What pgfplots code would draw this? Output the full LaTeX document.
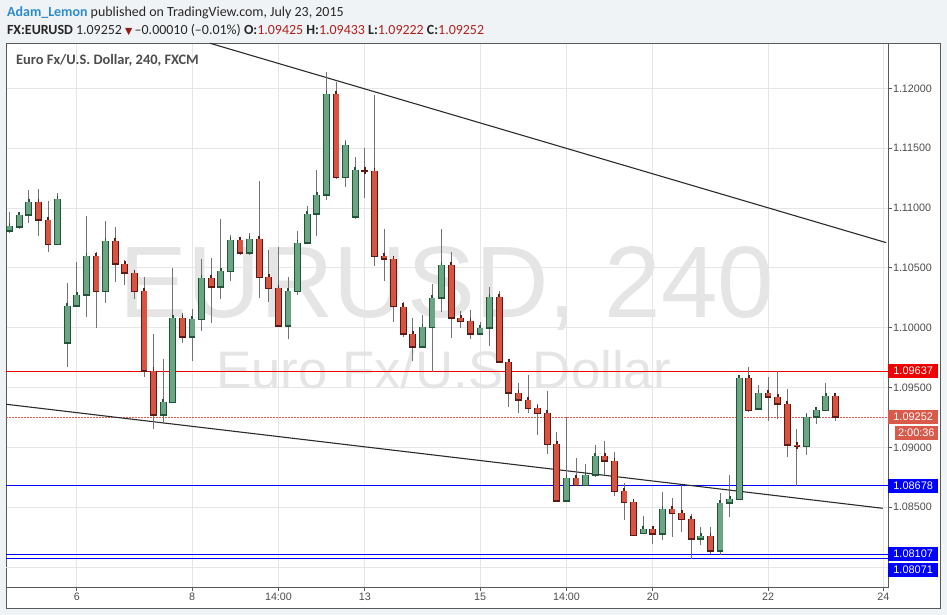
\documentclass[border=0pt]{standalone}
\usepackage{fontspec}
\setmainfont{Liberation Sans}
\newfontfamily\hdfont{Carlito}
\newfontfamily\symfont{DejaVu Sans}
\usepackage{pgfplots}
\usepackage{pgfplotstable}
\pgfplotsset{compat=1.18}

\definecolor{bgpage}{HTML}{F0F3F6}
\definecolor{framec}{HTML}{5A5A5A}
\definecolor{gridc}{HTML}{E6E6E6}
\definecolor{upfill}{HTML}{6BA583}
\definecolor{upline}{HTML}{225437}
\definecolor{dnfill}{HTML}{D75442}
\definecolor{dnline}{HTML}{5B1A13}
\definecolor{wick}{HTML}{737373}
\definecolor{lastc}{HTML}{D9594A}
\definecolor{txtgray}{HTML}{4D4D4D}
\definecolor{wm}{HTML}{E5E5E5}
\definecolor{userblue}{HTML}{2A8BD0}
\definecolor{valred}{HTML}{B0201C}
\definecolor{lvlred}{HTML}{EE0000}
\definecolor{lvlblue}{HTML}{0000FF}
\definecolor{trend}{HTML}{2B2B2B}

% EURUSD 240 min bars, x = bar number
% rising bars
\pgfplotstableread{
x o h l c
0 1.10806 1.10970 1.10789 1.10850
1 1.10844 1.10956 1.10828 1.10940
2 1.10940 1.11151 1.10878 1.11048
5 1.10697 1.11126 1.10690 1.11073
6 1.09870 1.10374 1.09674 1.10181
7 1.10179 1.10549 1.10175 1.10271
8 1.10271 1.10934 1.10092 1.10597
10 1.10304 1.10892 1.10209 1.10722
16 1.09268 1.09738 1.09192 1.09376
17 1.09376 1.10497 1.09370 1.10079
19 1.09920 1.10154 1.09724 1.10070
20 1.10070 1.10574 1.09975 1.10413
22 1.10338 1.10906 1.10237 1.10471
23 1.10471 1.10772 1.10393 1.10731
25 1.10622 1.10789 1.10610 1.10739
29 1.10012 1.10421 1.09903 1.10304
30 1.10304 1.10806 1.10276 1.10706
31 1.10706 1.11017 1.10697 1.10948
32 1.10948 1.11318 1.10769 1.11107
33 1.11107 1.12135 1.11070 1.11951
35 1.11257 1.11569 1.11179 1.11525
36 1.10923 1.11427 1.10909 1.11316
43 1.09841 1.10106 1.09833 1.10003
44 1.10003 1.10365 1.09632 1.10246
45 1.10246 1.10823 1.10129 1.10522
49 1.09945 1.10045 1.09936 1.09995
50 1.09995 1.10338 1.09851 1.10254
58 1.08549 1.09251 1.08545 1.08741
60 1.08682 1.08860 1.08678 1.08766
61 1.08766 1.09017 1.08754 1.08925
66 1.08281 1.08423 1.08273 1.08315
68 1.08273 1.08624 1.08228 1.08482
72 1.08231 1.08336 1.08186 1.08256
74 1.08131 1.08616 1.08102 1.08532
75 1.08532 1.08766 1.08415 1.08565
76 1.08565 1.09594 1.08560 1.09577
78 1.09318 1.09521 1.09315 1.09452
83 1.09005 1.09289 1.08938 1.09251
84 1.09251 1.09326 1.09197 1.09309
85 1.09309 1.09535 1.09301 1.09425
}\upbars

% falling bars
\pgfplotstableread{
x o h l c
3 1.11048 1.11159 1.10769 1.10898
4 1.10898 1.11059 1.10635 1.10697
9 1.10597 1.10633 1.10000 1.10304
11 1.10722 1.10842 1.10385 1.10530
12 1.10530 1.10566 1.10359 1.10455
13 1.10455 1.10482 1.10242 1.10304
14 1.10304 1.10424 1.09590 1.09640
15 1.09640 1.09947 1.09151 1.09268
18 1.10079 1.10120 1.09870 1.09920
21 1.10413 1.10580 1.10042 1.10338
24 1.10731 1.10756 1.10610 1.10622
26 1.10739 1.11224 1.10251 1.10421
27 1.10421 1.10650 1.10215 1.10329
28 1.10329 1.10672 1.10005 1.10012
34 1.11951 1.12057 1.11241 1.11257
37 1.11316 1.11502 1.11087 1.11308
38 1.11308 1.11945 1.10518 1.10594
39 1.10597 1.10823 1.10393 1.10572
40 1.10572 1.10580 1.10050 1.10176
41 1.10176 1.10212 1.09925 1.09945
42 1.09945 1.10084 1.09724 1.09841
46 1.10522 1.10630 1.09916 1.10079
47 1.10079 1.10137 1.10000 1.10053
48 1.10053 1.10145 1.09903 1.09945
51 1.10254 1.10305 1.09702 1.09711
52 1.09711 1.09719 1.09334 1.09452
53 1.09452 1.09535 1.09284 1.09393
54 1.09393 1.09602 1.09284 1.09326
55 1.09326 1.09360 1.09105 1.09284
56 1.09284 1.09468 1.08947 1.09025
57 1.09025 1.09125 1.08545 1.08549
59 1.08741 1.08908 1.08678 1.08682
62 1.08925 1.09050 1.08766 1.08883
63 1.08883 1.08958 1.08595 1.08632
64 1.08632 1.08699 1.08395 1.08540
65 1.08540 1.08557 1.08260 1.08264
67 1.08315 1.08336 1.08194 1.08273
69 1.08482 1.08574 1.08248 1.08448
70 1.08448 1.08682 1.08294 1.08398
71 1.08398 1.08440 1.08069 1.08231
73 1.08256 1.08336 1.08107 1.08131
77 1.09577 1.09674 1.09298 1.09309
79 1.09452 1.09590 1.09222 1.09418
80 1.09418 1.09640 1.09234 1.09360
81 1.09360 1.09485 1.08917 1.09017
82 1.09017 1.09151 1.08678 1.09005
86 1.09425 1.09433 1.09222 1.09252
}\downbars

\pgfplotsset{
  wickplot/.style={draw=none, mark=none, forget plot,
    error bars/.cd, y dir=plus, y explicit, error mark=none,
    error bar style={draw=wick, line width=1bp}},
  edgeplot/.style={only marks, mark=-, mark size=3.4bp, forget plot,
    mark options={draw=#1, line width=1.6bp},
    error bars/.cd, y dir=plus, y explicit, error mark=-,
    error mark options={draw=#1, line width=1.6bp, mark size=3.4bp},
    error bar style={draw=#1, line width=6.8bp}},
  fillplot/.style={draw=none, mark=none, forget plot,
    error bars/.cd, y dir=plus, y explicit, error mark=none,
    error bar style={draw=#1, line width=5bp}},
}
\tikzset{
  pricebox/.style={anchor=west, inner sep=0pt, minimum width=50bp,
    minimum height=14bp, text=white, font=\fontsize{11}{12}\selectfont},
}

\begin{document}
\begin{tikzpicture}
\fill[bgpage] (0,0) rectangle (947bp,-615bp);
\filldraw[fill=white, draw=framec, line width=0.8bp] (6bp,-43bp) rectangle (940bp,-608bp);

\node[anchor=base west, inner sep=0pt, font=\hdfont\fontsize{14}{15}\selectfont, text=black!85]
  at (7bp,-16.5bp) {\textcolor{userblue}{\bfseries Adam\_Lemon} published on TradingView.com, July 23, 2015};
\node[anchor=base west, inner sep=0pt, font=\hdfont\fontsize{14}{15}\selectfont, text=black!85]
  at (7bp,-34bp) {\textbf{FX:EURUSD} 1.09252 {\symfont\fontsize{9.5}{10}\selectfont\textcolor{valred!85!black}{▼}}\,–0.00010 (–0.01\%) \textbf{O:}\textcolor{valred}{1.09425} \textbf{H:}\textcolor{valred}{1.09433} \textbf{L:}\textcolor{valred}{1.09222} \textbf{C:}\textcolor{valred}{1.09252}};

\begin{axis}[
  at={(6bp,-587bp)}, anchor=south west,
  scale only axis, width=882bp, height=544bp,
  xmin=-0.385, xmax=91.49, ymin=1.07832, ymax=1.12380,
  axis line style={draw=framec, line width=0.8bp},
  xtick={7,19,28,37,49,58,67,79,91},
  xticklabels={6,8,14:00,13,15,14:00,20,22,24},
  ytick={1.085,1.090,1.095,1.100,1.105,1.110,1.115,1.120},
  extra y ticks={1.080}, extra y tick labels={},
  extra y tick style={major tick length=0pt},
  xtick pos=bottom, ytick pos=right, yticklabel pos=right,
  tick align=outside, major tick length=4bp,
  tick style={draw=framec, line width=0.8bp},
  grid=major, grid style={draw=gridc, line width=0.8bp},
  scaled y ticks=false,
  /pgf/number format/assume math mode=true,
  yticklabel style={font=\fontsize{10.8}{12}\selectfont, text=txtgray,
    xshift=-2.5bp, /pgf/number format/.cd, fixed, fixed zerofill, precision=5},
  xticklabel style={font=\fontsize{10.8}{12}\selectfont, text=txtgray, yshift=1.5bp},
]
% watermark and title
\node[anchor=base, text=wm, font=\fontsize{102}{102}\selectfont] at (rel axis cs:0.5,0.4945) {EURUSD, 240};
\node[anchor=base, text=wm, font=\fontsize{53}{53}\selectfont] at (rel axis cs:0.496,0.3653) {Euro Fx/U.S. Dollar};
\node[anchor=base west, inner sep=0pt, text=txtgray, font=\hdfont\bfseries\fontsize{14.5}{16}\selectfont] at (rel axis cs:0.0113,0.9596) {Euro Fx/U.S. Dollar, 240, FXCM};

% levels and trend lines
\addplot[draw=lvlred, line width=1bp, forget plot] coordinates {(-0.385,1.09637) (91.49,1.09637)};
\addplot[draw=lastc, line width=0.8bp, dash pattern=on 1.5bp off 1.5bp, forget plot] coordinates {(-0.385,1.09252) (91.49,1.09252)};
\addplot[draw=lvlblue, line width=1bp, forget plot] coordinates {(-0.385,1.08678) (91.49,1.08678)};
\addplot[draw=lvlblue, line width=1bp, forget plot] coordinates {(-0.385,1.08107) (91.49,1.08107)};
\addplot[draw=lvlblue, line width=1bp, forget plot] coordinates {(-0.385,1.08071) (91.49,1.08071)};
\addplot[draw=trend, line width=1.1bp, forget plot] coordinates {(20.86,1.12378) (91.3,1.10711)};
\addplot[draw=trend, line width=1.1bp, forget plot] coordinates {(-0.385,1.09360) (90.94,1.08490)};

% candles
\addplot[wickplot] table[x=x, y=l, y error expr=\thisrow{h}-\thisrow{l}] {\upbars};
\addplot[wickplot] table[x=x, y=l, y error expr=\thisrow{h}-\thisrow{l}] {\downbars};
\addplot[edgeplot=upline] table[x=x, y=o, y error expr=\thisrow{c}-\thisrow{o}] {\upbars};
\addplot[fillplot=upfill] table[x=x, y=o, y error expr=\thisrow{c}-\thisrow{o}] {\upbars};
\addplot[edgeplot=dnline] table[x=x, y=c, y error expr=\thisrow{o}-\thisrow{c}] {\downbars};
\addplot[fillplot=dnfill] table[x=x, y=c, y error expr=\thisrow{o}-\thisrow{c}] {\downbars};

\coordinate (lvA) at (axis cs:91.49,1.09637);
\coordinate (lvB) at (axis cs:91.49,1.09252);
\coordinate (lvC) at (axis cs:91.49,1.08678);
\coordinate (lvD) at (axis cs:91.49,1.08107);
\coordinate (lvE) at (axis cs:91.49,1.08071);
\end{axis}

\node[pricebox, fill=lvlred] at (lvA) {1.09637};
\node[pricebox, fill=lastc] at (lvB) {1.09252};
\node[pricebox, fill=lastc, minimum width=43bp, anchor=north east] at ([xshift=50bp,yshift=-8.5bp]lvB) {2:00:36};
\node[pricebox, fill=lvlblue] at (lvC) {1.08678};
\node[pricebox, fill=lvlblue] at ([yshift=0.3bp]lvD) {1.08107};
\node[pricebox, fill=lvlblue] at ([yshift=-11.8bp]lvE) {1.08071};

\pgfresetboundingbox
\path (0,0) rectangle (947bp,-615bp);
\end{tikzpicture}
\end{document}
